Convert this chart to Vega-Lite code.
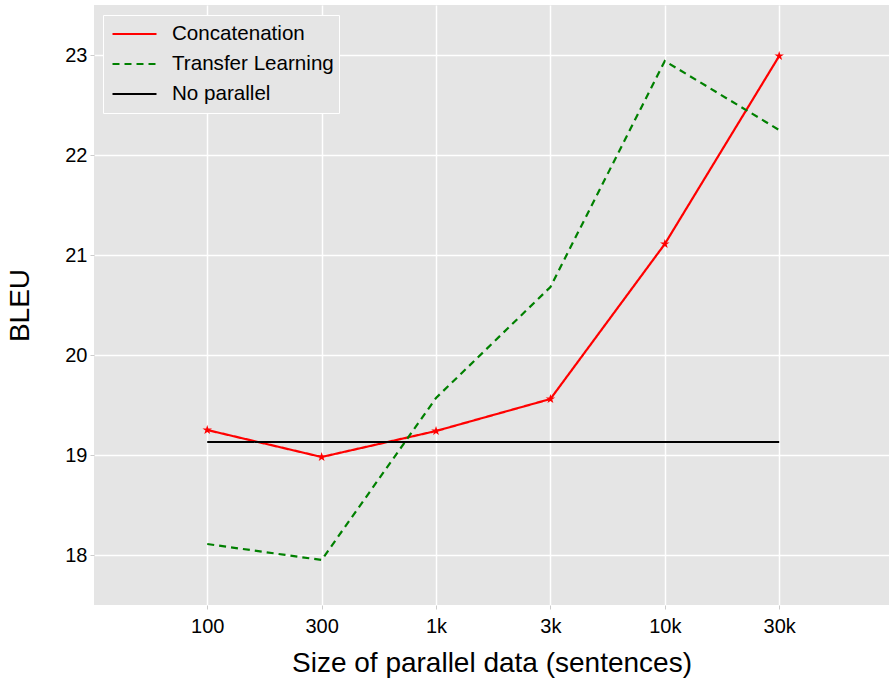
{
  "$schema": "https://vega.github.io/schema/vega-lite/v6.json",
  "width": 795,
  "height": 600,
  "autosize": {"type": "none"},
  "padding": {"left": 94, "top": 5, "right": 0, "bottom": 77},
  "background": "white",
  "config": {
    "font": "Liberation Sans",
    "view": {"fill": "#e5e5e5", "stroke": null},
    "axis": {
      "grid": true,
      "gridColor": "white",
      "gridWidth": 1.5,
      "domain": false,
      "tickColor": "#cccccc",
      "tickSize": 4,
      "labelFont": "Liberation Sans",
      "titleFont": "Liberation Sans",
      "labelColor": "black",
      "titleColor": "black",
      "labelFontSize": 20,
      "titleFontSize": 28,
      "titleFontWeight": "normal"
    }
  },
  "data": {
    "values": [
      {"x": 0, "series": "Concatenation", "bleu": 19.25},
      {"x": 1, "series": "Concatenation", "bleu": 18.98},
      {"x": 2, "series": "Concatenation", "bleu": 19.24},
      {"x": 3, "series": "Concatenation", "bleu": 19.56},
      {"x": 4, "series": "Concatenation", "bleu": 21.11},
      {"x": 5, "series": "Concatenation", "bleu": 22.99},
      {"x": 0, "series": "Transfer Learning", "bleu": 18.11},
      {"x": 1, "series": "Transfer Learning", "bleu": 17.95},
      {"x": 2, "series": "Transfer Learning", "bleu": 19.57},
      {"x": 3, "series": "Transfer Learning", "bleu": 20.68},
      {"x": 4, "series": "Transfer Learning", "bleu": 22.94},
      {"x": 5, "series": "Transfer Learning", "bleu": 22.25},
      {"x": 0, "series": "No parallel", "bleu": 19.13},
      {"x": 1, "series": "No parallel", "bleu": 19.13},
      {"x": 2, "series": "No parallel", "bleu": 19.13},
      {"x": 3, "series": "No parallel", "bleu": 19.13},
      {"x": 4, "series": "No parallel", "bleu": 19.13},
      {"x": 5, "series": "No parallel", "bleu": 19.13}
    ]
  },
  "layer": [
    {
      "mark": {"type": "line", "strokeWidth": 2.2},
      "encoding": {
        "x": {
          "field": "x",
          "type": "quantitative",
          "scale": {"domain": [-0.99, 5.96], "nice": false, "zero": false},
          "axis": {
            "values": [0, 1, 2, 3, 4, 5],
            "labelExpr": "['100','300','1k','3k','10k','30k'][datum.value]",
            "title": "Size of parallel data (sentences)",
            "labelPadding": 7,
            "titlePadding": 13
          }
        },
        "y": {
          "field": "bleu",
          "type": "quantitative",
          "scale": {"domain": [17.5, 23.5], "nice": false, "zero": false},
          "axis": {
            "values": [18, 19, 20, 21, 22, 23],
            "format": "d",
            "title": "BLEU",
            "labelPadding": 3,
            "titlePadding": 30
          }
        },
        "color": {
          "field": "series",
          "type": "nominal",
          "scale": {
            "domain": ["Concatenation", "Transfer Learning", "No parallel"],
            "range": ["#ff0000", "#008000", "#000000"]
          },
          "legend": {
            "title": null,
            "orient": "none",
            "legendX": 9,
            "legendY": 10,
            "fillColor": "#e5e5e5",
            "strokeColor": "white",
            "padding": 5,
            "symbolType": "stroke",
            "symbolSize": 1936,
            "symbolStrokeWidth": 2.2,
            "symbolOffset": 3,
            "clipHeight": 28,
            "labelFontSize": 20.6,
            "labelFont": "Liberation Sans",
            "labelColor": "black",
            "labelOffset": 14,
            "labelLimit": 400,
            "rowPadding": 2
          }
        },
        "strokeDash": {
          "field": "series",
          "type": "nominal",
          "scale": {
            "domain": ["Concatenation", "Transfer Learning", "No parallel"],
            "range": [[1, 0], [7, 5], [1, 0]]
          },
          "legend": null
        }
      }
    },
    {
      "transform": [{"filter": "datum.series === 'Concatenation'"}],
      "mark": {
        "type": "point",
        "filled": true,
        "color": "#ff0000",
        "opacity": 1,
        "size": 100,
        "shape": "M0,-1L0.2245,-0.309L0.951,-0.309L0.363,0.118L0.588,0.809L0,0.382L-0.588,0.809L-0.363,0.118L-0.951,-0.309L-0.2245,-0.309Z"
      },
      "encoding": {
        "x": {"field": "x", "type": "quantitative"},
        "y": {"field": "bleu", "type": "quantitative"}
      }
    }
  ]
}
